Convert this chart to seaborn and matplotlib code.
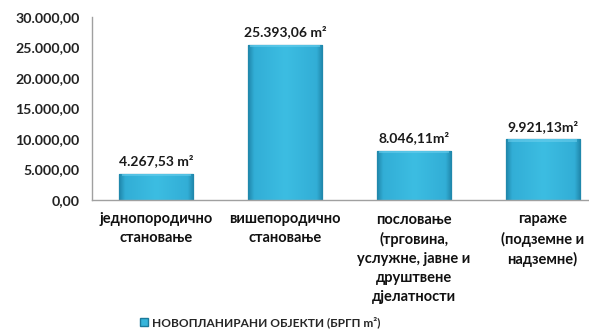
import matplotlib
matplotlib.use("Agg")
import matplotlib.pyplot as plt
import seaborn as sns
import pandas as pd
import numpy as np
from matplotlib.patches import Patch
from matplotlib.colors import LinearSegmentedColormap

categories = ["једнопородично\nстановање", "вишепородично\nстановање",
              "пословање\n(трговина,\nуслужне, јавне и\nдруштвене\nдјелатности",
              "гараже\n(подземне и\nнадземне)"]
values = [4267.53, 25393.06, 8046.11, 9921.13]
value_labels = ["4.267,53 m²", "25.393,06 m²", "8.046,11m²", "9.921,13m²"]
yticks = [0, 5000, 10000, 15000, 20000, 25000, 30000]
ytick_labels = ["0,00", "5.000,00", "10.000,00", "15.000,00", "20.000,00", "25.000,00", "30.000,00"]
series_name = "НОВОПЛАНИРАНИ ОБЈЕКТИ (БРГП m²)"

sns.set_theme(style="white")
plt.rcParams['font.family'] = ['Lato', 'DejaVu Sans']
plt.rcParams['font.weight'] = 'bold'

df = pd.DataFrame({"cat": categories, "val": values})

fig = plt.figure(figsize=(5.89, 3.31), dpi=100)
W, H = 589, 331
ax = fig.add_axes([92 / W, 1 - 200 / H, (607 - 92) / W, (200 - 17) / H])

bar_color = "#36b5db"
edge_color = "#1b7a9b"
sns.barplot(data=df, x="cat", y="val", ax=ax, color=bar_color, width=0.575,
            saturation=1, edgecolor=edge_color, linewidth=0.9)

# horizontal gradient fill (bevelled look), clipped to each bar
cmap = LinearSegmentedColormap.from_list(
    "bev", [(0.0, "#1f86aa"), (0.08, "#32aed6"), (0.5, "#3cbde2"),
            (0.92, "#32aed6"), (1.0, "#1f86aa")])
grad = np.linspace(0, 1, 200).reshape(1, -1)
for p in ax.patches:
    x0, y0 = p.get_x(), p.get_y()
    w, h = p.get_width(), p.get_height()
    im = ax.imshow(grad, cmap=cmap, aspect="auto", extent=[x0, x0 + w, y0, y0 + h],
                   zorder=p.get_zorder() + 0.1, interpolation="bicubic")
    im.set_clip_path(p)
    ax.fill_between([x0 + w * 0.03, x0 + w * 0.97], y0 + h - 30000 * 0.012, y0 + h,
                    color="#6fd0ee", alpha=0.55, zorder=p.get_zorder() + 0.2, lw=0)

for i, (v, lab) in enumerate(zip(values, value_labels)):
    ax.text(i, v + 1100, lab, ha="center", va="bottom", fontsize=10,
            fontweight="bold", color="#1a1a1a")

ax.set_ylim(0, 30000)
ax.set_xlim(-0.5, 3.5)
ax.set_yticks(yticks)
ax.set_yticklabels(ytick_labels, fontsize=10.2, fontweight="bold", color="#222222")
ax.set_xticks(range(len(categories)))
ax.set_xticklabels(categories, fontsize=10.5, fontweight="bold", color="#111111",
                   linespacing=1.45, va="top")
ax.tick_params(axis="y", length=0, pad=9)
ax.tick_params(axis="x", length=0, pad=9)
ax.set_xlabel("")
ax.set_ylabel("")
for s in ["top", "right"]:
    ax.spines[s].set_visible(False)
for s in ["left", "bottom"]:
    ax.spines[s].set_color("#a0a0a0")
    ax.spines[s].set_linewidth(1.0)

handle = Patch(facecolor=bar_color, edgecolor=edge_color, label=series_name)
fig.legend(handles=[handle], loc="center", bbox_to_anchor=(260 / W, 1 - 322 / H),
           frameon=False, handlelength=0.7, handleheight=0.7,
           handletextpad=0.3, prop={"weight": "bold", "size": 8.6})

fig.savefig("out.png", dpi=100)
